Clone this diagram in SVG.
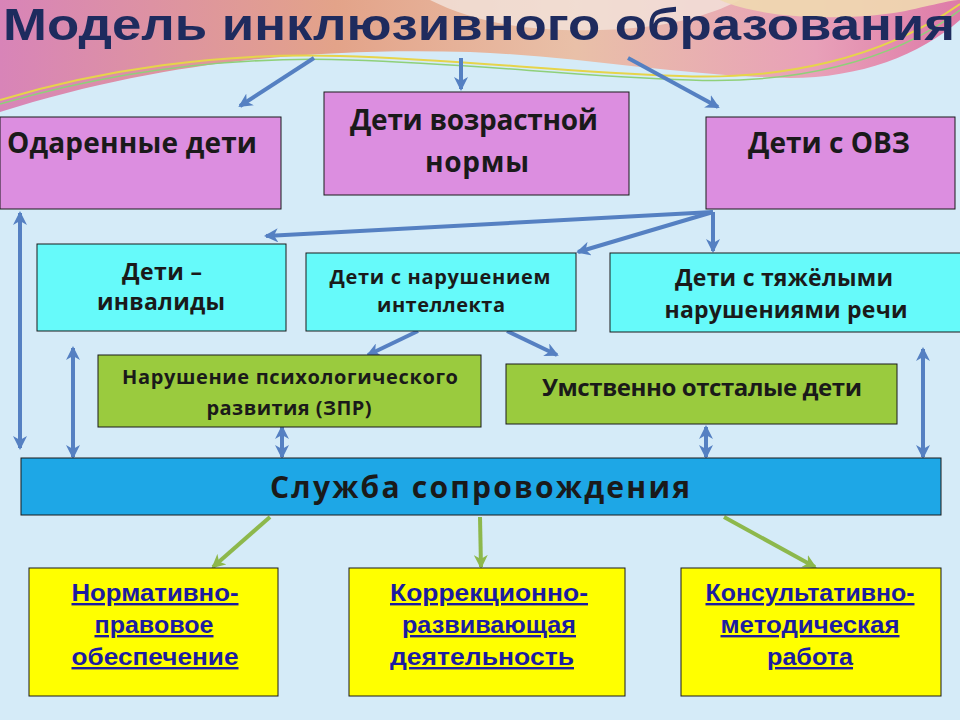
<svg xmlns="http://www.w3.org/2000/svg" width="960" height="720" viewBox="0 0 960 720">
<defs>
<style>
.box{stroke:#1a1a1a;stroke-width:1}
.pink{fill:#dc8ee0}
.cyan{fill:#66fafa}
.green{fill:#9acb3e}
.blue{fill:#1ea7e6}
.yellow{fill:#ffff00}
.t{font-family:"Open Sans","Noto Sans","Liberation Sans",sans-serif;font-weight:700;fill:#1a1a1a;text-anchor:middle}
.b{font-family:"Liberation Sans","Arial",sans-serif;font-weight:700;fill:#1c1ca0;text-anchor:middle;font-size:24px;text-decoration:underline}
.ab{stroke:#5580c2;stroke-width:4;fill:none}
.ag{stroke:#8db84c;stroke-width:4;fill:none}
</style>
<marker id="hb" viewBox="0 0 14 14" refX="12" refY="7" markerWidth="14" markerHeight="14" markerUnits="userSpaceOnUse" orient="auto-start-reverse">
<path d="M0,0 L14,7 L0,14 L4,7 Z" fill="#5580c2"/>
</marker>
<marker id="hg" viewBox="0 0 14 14" refX="12" refY="7" markerWidth="14" markerHeight="14" markerUnits="userSpaceOnUse" orient="auto-start-reverse">
<path d="M0,0 L14,7 L0,14 L4,7 Z" fill="#8db84c"/>
</marker>
<linearGradient id="topg" x1="0" y1="0" x2="1" y2="0">
<stop offset="0" stop-color="#d884b8"/>
<stop offset="0.35" stop-color="#e3a389"/>
<stop offset="0.6" stop-color="#e9c0a8"/>
<stop offset="0.85" stop-color="#e8a0b8"/>
<stop offset="1" stop-color="#de7aa8"/>
</linearGradient>
</defs>

<g id="background">
<rect x="0" y="0" width="960" height="720" fill="#d5ebf8"/>
<path d="M0,0 H960 V20 C920,55 860,78 790,78 C680,76 580,56 470,52 C330,48 170,58 0,112 Z" fill="url(#topg)"/>
<path d="M430,0 C470,20 520,32 600,30 C680,28 720,10 740,0 Z" fill="#f2e4dc" opacity="0.8"/>
<path d="M720,0 C760,18 840,22 900,12 C930,6 950,0 960,0 Z" fill="#efd9b0" opacity="0.9"/>
<path d="M0,100 C100,70 220,52 340,56 C470,60 560,72 680,76 C780,80 880,60 960,4" fill="none" stroke="#e6d44a" stroke-width="2"/>
<path d="M0,104 C110,72 230,56 350,60 C480,64 570,76 690,80 C790,84 890,64 960,10" fill="none" stroke="#8fd07a" stroke-width="1.5"/>
</g>

<g id="title">
<text x="3" y="40" font-family="Liberation Sans, Arial, sans-serif" font-weight="700" font-size="45" fill="#1e2b5e" textLength="952" lengthAdjust="spacingAndGlyphs">Модель инклюзивного образования</text>
</g>

<g id="connectors">
<line class="ab" x1="314" y1="58" x2="240" y2="106" marker-end="url(#hb)"/>
<line class="ab" x1="461" y1="58" x2="461" y2="89" marker-end="url(#hb)"/>
<line class="ab" x1="628" y1="58" x2="718" y2="107" marker-end="url(#hb)"/>
<line class="ab" x1="713" y1="212" x2="266" y2="236" marker-end="url(#hb)"/>
<line class="ab" x1="713" y1="212" x2="578" y2="252" marker-end="url(#hb)"/>
<line class="ab" x1="713" y1="212" x2="713" y2="251" marker-end="url(#hb)"/>
<line class="ab" x1="20" y1="213" x2="20" y2="448" marker-start="url(#hb)" marker-end="url(#hb)"/>
<line class="ab" x1="73" y1="348" x2="73" y2="457" marker-start="url(#hb)" marker-end="url(#hb)"/>
<line class="ab" x1="282" y1="427" x2="282" y2="457" marker-start="url(#hb)" marker-end="url(#hb)"/>
<line class="ab" x1="706" y1="427" x2="706" y2="457" marker-start="url(#hb)" marker-end="url(#hb)"/>
<line class="ab" x1="923" y1="349" x2="923" y2="457" marker-start="url(#hb)" marker-end="url(#hb)"/>
<line class="ab" x1="418" y1="331" x2="368" y2="355" marker-end="url(#hb)"/>
<line class="ab" x1="507" y1="331" x2="557" y2="355" marker-end="url(#hb)"/>
<line class="ag" x1="270" y1="517" x2="213" y2="567" marker-end="url(#hg)"/>
<line class="ag" x1="480" y1="517" x2="481" y2="567" marker-end="url(#hg)"/>
<line class="ag" x1="724" y1="517" x2="815" y2="567" marker-end="url(#hg)"/>
</g>

<g id="gifted">
<rect class="box pink" x="0" y="117" width="281" height="92"/>
<text class="t" x="132" y="153" font-size="28" textLength="250">Одаренные дети</text>
</g>
<g id="norm">
<rect class="box pink" x="324" y="92" width="305" height="103"/>
<text class="t" x="474" y="130" font-size="28" textLength="248">Дети возрастной</text>
<text class="t" x="477" y="172" font-size="28" textLength="104">нормы</text>
</g>
<g id="ovz">
<rect class="box pink" x="706" y="117" width="249" height="92"/>
<text class="t" x="829" y="153" font-size="28" textLength="162">Дети с ОВЗ</text>
</g>

<g id="disabled">
<rect class="box cyan" x="37" y="244" width="249" height="87"/>
<text class="t" x="162" y="280" font-size="23" textLength="80">Дети –</text>
<text class="t" x="161" y="310" font-size="23" textLength="128">инвалиды</text>
</g>
<g id="intellect">
<rect class="box cyan" x="306" y="253" width="270" height="78"/>
<text class="t" x="440" y="284" font-size="20" textLength="221">Дети с нарушением</text>
<text class="t" x="441" y="312" font-size="20" textLength="128">интеллекта</text>
</g>
<g id="speech">
<rect class="box cyan" x="610" y="253" width="355" height="79"/>
<text class="t" x="784" y="286" font-size="23" textLength="218">Дети с тяжёлыми</text>
<text class="t" x="786" y="318" font-size="23" textLength="243">нарушениями речи</text>
</g>

<g id="zpr">
<rect class="box green" x="98" y="355" width="383" height="72"/>
<text class="t" x="290" y="384" font-size="20" textLength="336">Нарушение психологического</text>
<text class="t" x="289" y="415" font-size="20" textLength="165">развития (ЗПР)</text>
</g>
<g id="retarded">
<rect class="box green" x="506" y="364" width="391" height="60"/>
<text class="t" x="702" y="396" font-size="24" textLength="320">Умственно отсталые дети</text>
</g>

<g id="service">
<rect class="box blue" x="21" y="458" width="920" height="57"/>
<text class="t" x="480" y="498" font-size="30" textLength="420">Служба сопровождения</text>
</g>

<g id="legal">
<rect class="box yellow" x="29" y="568" width="249" height="128"/>
<text class="b" x="155" y="601" textLength="167" lengthAdjust="spacingAndGlyphs">Нормативно-</text>
<text class="b" x="154" y="633" textLength="119" lengthAdjust="spacingAndGlyphs">правовое</text>
<text class="b" x="155" y="665" textLength="167" lengthAdjust="spacingAndGlyphs">обеспечение</text>
</g>
<g id="correction">
<rect class="box yellow" x="349" y="568" width="276" height="128"/>
<text class="b" x="489" y="601" textLength="198" lengthAdjust="spacingAndGlyphs">Коррекционно-</text>
<text class="b" x="489" y="633" textLength="174" lengthAdjust="spacingAndGlyphs">развивающая</text>
<text class="b" x="482" y="665" textLength="184" lengthAdjust="spacingAndGlyphs">деятельность</text>
</g>
<g id="consult">
<rect class="box yellow" x="681" y="568" width="260" height="128"/>
<text class="b" x="810" y="601" textLength="209" lengthAdjust="spacingAndGlyphs">Консультативно-</text>
<text class="b" x="810" y="633" textLength="179" lengthAdjust="spacingAndGlyphs">методическая</text>
<text class="b" x="810" y="665" textLength="86" lengthAdjust="spacingAndGlyphs">работа</text>
</g>
</svg>
